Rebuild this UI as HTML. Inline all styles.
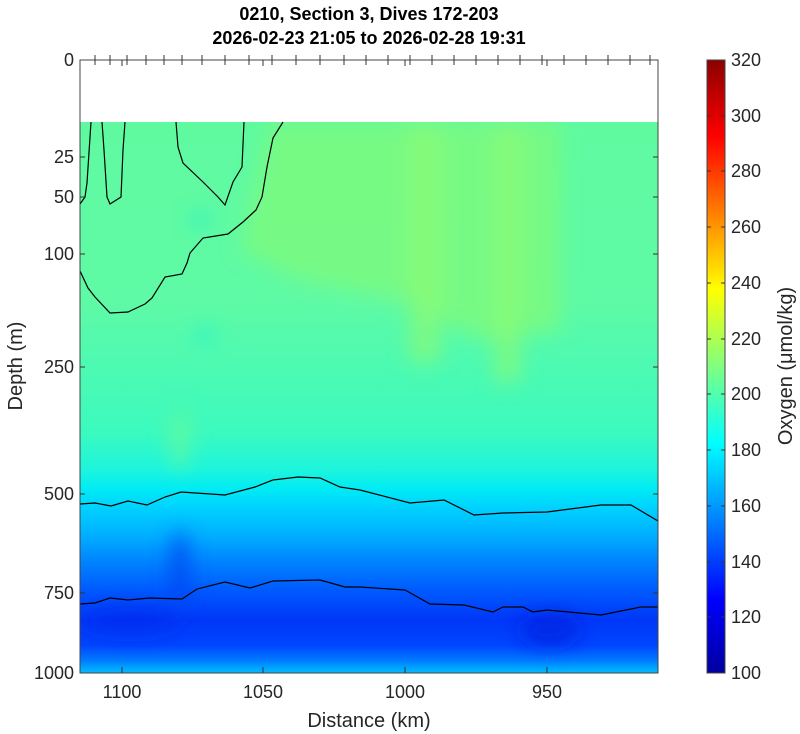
<!DOCTYPE html>
<html><head><meta charset="utf-8"><style>
html,body{margin:0;padding:0;background:#fff;}
svg{display:block;font-family:"Liberation Sans",sans-serif;}
</style></head><body>
<svg width="800" height="734" viewBox="0 0 800 734" xmlns="http://www.w3.org/2000/svg">
<defs>
<linearGradient id="fld" gradientUnits="userSpaceOnUse" x1="0" y1="122" x2="0" y2="673">
<stop offset="0" stop-color="rgb(95,250,160)"/>
<stop offset="0.32" stop-color="rgb(95,250,165)"/>
<stop offset="0.56" stop-color="rgb(60,250,190)"/>
<stop offset="0.63" stop-color="rgb(30,245,220)"/>
<stop offset="0.667" stop-color="rgb(0,235,245)"/>
<stop offset="0.70" stop-color="rgb(0,210,255)"/>
<stop offset="0.75" stop-color="rgb(0,175,255)"/>
<stop offset="0.80" stop-color="rgb(0,130,255)"/>
<stop offset="0.85" stop-color="rgb(0,90,255)"/>
<stop offset="0.904" stop-color="rgb(0,55,248)"/>
<stop offset="0.95" stop-color="rgb(0,70,255)"/>
<stop offset="0.976" stop-color="rgb(0,120,255)"/>
<stop offset="1" stop-color="rgb(0,190,255)"/>
</linearGradient>
<linearGradient id="jet" x1="0" y1="1" x2="0" y2="0">
<stop offset="0" stop-color="rgb(0,0,160)"/>
<stop offset="0.12" stop-color="rgb(0,0,255)"/>
<stop offset="0.375" stop-color="rgb(0,255,255)"/>
<stop offset="0.625" stop-color="rgb(255,255,0)"/>
<stop offset="0.875" stop-color="rgb(255,0,0)"/>
<stop offset="1" stop-color="rgb(140,0,0)"/>
</linearGradient>
<filter id="bl" x="-50%" y="-50%" width="200%" height="200%"><feGaussianBlur stdDeviation="10"/></filter>
<clipPath id="cp"><rect x="80" y="122" width="578" height="551"/></clipPath>
</defs>
<rect x="80" y="122" width="578" height="551" fill="url(#fld)"/>
<g clip-path="url(#cp)" filter="url(#bl)">
<path d="M270,122 L560,122 L560,330 L480,340 L400,300 L300,280 L240,250 Z" fill="rgb(125,250,125)" opacity="0.8"/>
<rect x="410" y="122" width="30" height="240" fill="rgb(140,250,115)" opacity="0.7"/>
<rect x="495" y="122" width="25" height="260" fill="rgb(140,250,115)" opacity="0.7"/>
<ellipse cx="180" cy="570" rx="10" ry="40" fill="rgb(0,70,240)" opacity="0.8"/>
<ellipse cx="550" cy="630" rx="30" ry="15" fill="rgb(0,30,220)" opacity="0.7"/>
<ellipse cx="130" cy="620" rx="50" ry="12" fill="rgb(0,40,235)" opacity="0.6"/>
<ellipse cx="200" cy="220" rx="8" ry="6" fill="rgb(0,240,230)" opacity="0.8"/>
<ellipse cx="205" cy="335" rx="8" ry="6" fill="rgb(0,240,230)" opacity="0.8"/>
<ellipse cx="180" cy="440" rx="10" ry="30" fill="rgb(110,250,150)" opacity="0.7"/>
</g>
<g fill="none" stroke="#000" stroke-width="1.2">
<polyline points="91,122 87,183 85,197 80,204"/>
<polyline points="102,122 104,150 107,197 110,204 121,197 123,150 125,122"/>
<polyline points="176,122 178,147 183,163 203,182 218,197 225,205 233,182 242,167 244,122"/>
<polyline points="283,122 273,138 267,167 262,197 256,210 243,222 228,234 203,238 190,253 187,263 182,274 165,277 152,298 145,304 128,312 110,313 95,297 88,288 80,271"/>
<polyline points="80,504 95,503 111,506 128,501 147,505 165,497 181,492 225,495 255,487 273,480 298,477 320,478 340,487 360,490 410,503 444,500 474,515 503,513 547,512 601,505 631,505 658,521"/>
<polyline points="80,604 95,603 110,598 128,600 150,598 182,599 197,589 225,582 250,588 273,581 320,580 345,587 360,587 405,590 430,604 464,605 493,612 503,607 523,607 533,612 547,610 601,615 641,607 658,607"/>
</g>
<rect x="80" y="60" width="578" height="613" fill="none" stroke="#444" stroke-width="1"/>
<g stroke="#333" stroke-width="1">
<path d="M80,157h5M80,197h5M80,254h5M80,367h5M80,494h5M80,593h5M653,157h5M653,197h5M653,254h5M653,367h5M653,494h5M653,593h5"/>
<path d="M122,673v-6M263,673v-6M405,673v-6M547,673v-6M122,60v6M263,60v6M405,60v6M547,60v6"/>
<path d="M95,55v10M110,55v10M127,55v10M146,55v10M164,55v10M182,55v10M202,55v10M225,55v10M249,55v10M272,55v10M296,55v10M320,55v10M344,55v10M366,55v10M388,55v10M410,55v10M432,55v10M454,55v10M476,55v10M498,55v10M520,55v10M542,55v10M564,55v10M586,55v10M608,55v10M630,55v10M650,55v10"/>
</g>
<g font-size="18" fill="#262626" text-anchor="end">
<text x="74" y="66">0</text><text x="74" y="163">25</text><text x="74" y="203">50</text>
<text x="74" y="260">100</text><text x="74" y="373">250</text><text x="74" y="500">500</text>
<text x="74" y="599">750</text><text x="74" y="679">1000</text>
</g>
<g font-size="18" fill="#262626" text-anchor="middle">
<text x="122" y="698">1100</text><text x="263" y="698">1050</text><text x="405" y="698">1000</text><text x="547" y="698">950</text>
<text x="369" y="727" font-size="20">Distance (km)</text>
<text x="369" y="20" font-size="18" font-weight="bold" fill="#000">0210, Section 3, Dives 172-203</text>
<text x="369" y="44" font-size="18" font-weight="bold" fill="#000">2026-02-23 21:05 to 2026-02-28 19:31</text>
<text transform="translate(22,366) rotate(-90)" font-size="20">Depth (m)</text>
<text transform="translate(792,366) rotate(-90)" font-size="20">Oxygen (μmol/kg)</text>
</g>
<rect x="707" y="60" width="18" height="613" fill="url(#jet)" stroke="#444" stroke-width="1"/>
<g stroke="#333" stroke-width="1">
<path d="M707,617h4M707,562h4M707,506h4M707,450h4M707,394h4M707,339h4M707,283h4M707,227h4M707,171h4M707,116h4M721,617h4M721,562h4M721,506h4M721,450h4M721,394h4M721,339h4M721,283h4M721,227h4M721,171h4M721,116h4"/>
</g>
<g font-size="18" fill="#262626">
<text x="731" y="679">100</text><text x="731" y="623">120</text><text x="731" y="568">140</text>
<text x="731" y="512">160</text><text x="731" y="456">180</text><text x="731" y="400">200</text>
<text x="731" y="345">220</text><text x="731" y="289">240</text><text x="731" y="233">260</text>
<text x="731" y="177">280</text><text x="731" y="122">300</text><text x="731" y="66">320</text>
</g>
</svg>
</body></html>
